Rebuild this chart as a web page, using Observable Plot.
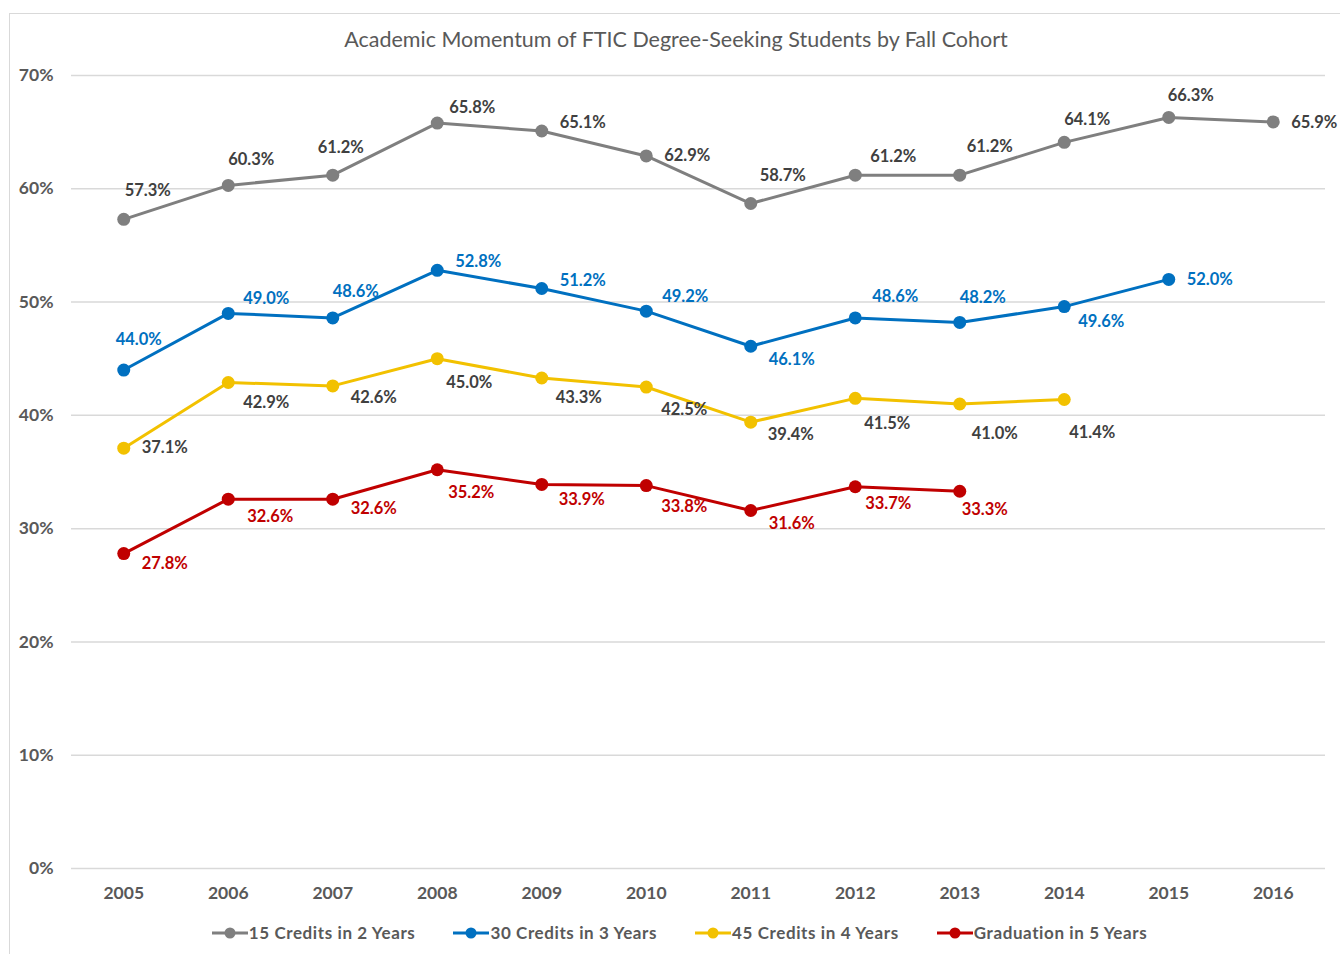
<!DOCTYPE html>
<html><head><meta charset="utf-8">
<script src="https://cdn.jsdelivr.net/npm/d3@7"></script>
<script src="https://cdn.jsdelivr.net/npm/@observablehq/plot@0.6"></script>
<style>
body{margin:0;background:#fff;font-family:Lato,"Open Sans",sans-serif;}
#wrap{position:relative;width:1340px;height:954px;overflow:hidden;background:#fff;}
#frame{position:absolute;left:9px;top:13px;width:1400px;height:1000px;border:1px solid #d9d9d9;box-sizing:border-box;}
#title{position:absolute;top:25px;left:0;width:1352px;text-align:center;font-size:21.5px;color:#595959;line-height:28px;}
#chart{position:absolute;left:0;top:0;}
#legend{position:absolute;top:921px;left:0;width:1359px;display:flex;justify-content:center;gap:38px;font-size:17px;letter-spacing:0.6px;font-weight:bold;color:#595959;line-height:24px;}
#legend .item{display:flex;align-items:center;}
#legend svg{display:block;margin-right:1px;}
</style></head>
<body>
<div id="wrap">
  <div id="frame"></div>
  <div id="chart"></div>
  <div id="title">Academic Momentum of FTIC Degree-Seeking Students by Fall Cohort</div>
  <div id="legend"></div>
</div>
<script>
// ---- data ----
const years = [2005, 2006, 2007, 2008, 2009, 2010, 2011, 2012, 2013, 2014, 2015, 2016];
const seriesNames = ["15 Credits in 2 Years", "30 Credits in 3 Years", "45 Credits in 4 Years", "Graduation in 5 Years"];
const credits15in2 = [57.3, 60.3, 61.2, 65.8, 65.1, 62.9, 58.7, 61.2, 61.2, 64.1, 66.3, 65.9];
const credits30in3 = [44.0, 49.0, 48.6, 52.8, 51.2, 49.2, 46.1, 48.6, 48.2, 49.6, 52.0];
const credits45in4 = [37.1, 42.9, 42.6, 45.0, 43.3, 42.5, 39.4, 41.5, 41.0, 41.4];
const grad5 = [27.8, 32.6, 32.6, 35.2, 33.9, 33.8, 31.6, 33.7, 33.3];
const yTicks = [0, 10, 20, 30, 40, 50, 60, 70];

// ---- styling ----
const lineColors = ["#7f7f7f", "#0070c0", "#f2c100", "#c00000"];
const labelColors = ["#404040", "#0070c0", "#404040", "#c00000"];
// label nudges (px) relative to each point
const labelNudges = [
  [[24,-29],[23,-26],[8,-27],[35,-15],[41,-8],[41,0],[32,-28],[38,-18],[30,-28],[23,-23],[22,-22],[41,1]],
  [[15,-30],[38,-15],[23,-26],[41,-9],[41,-8],[39,-14],[41,13],[40,-21],[23,-25],[37,15],[41,0]],
  [[41,0],[38,20],[41,12],[32,24],[37,20],[38,23],[40,13],[32,25],[35,30],[28,33]],
  [[41,10],[42,18],[41,10],[34,23],[40,15],[38,21],[41,13],[33,17],[25,18]]
];

const allValues = [credits15in2, credits30in3, credits45in4, grad5];
const rows = [];
allValues.forEach((vals, s) => vals.forEach((v, i) => rows.push({series: seriesNames[s], s, i, year: years[i], value: v})));

const labelMarks = rows.map(r => Plot.text([r], {
  x: "year", y: "value", text: d => d.value.toFixed(1) + "%",
  dx: labelNudges[r.s][r.i][0], dy: labelNudges[r.s][r.i][1],
  fill: labelColors[r.s], fontWeight: "bold", fontSize: 16.5, textAnchor: "middle", lineAnchor: "middle"
}));

const chart = Plot.plot({
  width: 1340, height: 954,
  marginLeft: 71, marginRight: 15, marginTop: 75, marginBottom: 86,
  style: {fontFamily: "Lato, 'Open Sans', sans-serif", fontSize: "17.5px", fontWeight: "bold", color: "#595959", background: "transparent"},
  x: {type: "linear", domain: [2004.5, 2016.5]},
  y: {domain: [0, 70]},
  color: {domain: seriesNames, range: lineColors},
  marks: [
    Plot.gridY(yTicks, {stroke: "#d9d9d9", strokeOpacity: 1, strokeWidth: 1.5}),
    Plot.axisY({ticks: yTicks, tickSize: 0, tickPadding: 18, tickFormat: d => d + "%", label: null}),
    Plot.axisX({ticks: years, tickSize: 0, tickPadding: 18, tickFormat: d => String(d), label: null}),
    Plot.line(rows, {x: "year", y: "value", z: "series", stroke: "series", strokeWidth: 3}),
    Plot.dot(rows, {x: "year", y: "value", fill: "series", r: 6.5, stroke: "none"}),
    ...labelMarks
  ]
});
document.getElementById("chart").appendChild(chart);

// legend
const legend = document.getElementById("legend");
seriesNames.forEach((name, s) => {
  const item = document.createElement("div");
  item.className = "item";
  item.innerHTML = `<svg width="36" height="14"><line x1="0" y1="7" x2="36" y2="7" stroke="${lineColors[s]}" stroke-width="3"/><circle cx="18" cy="7" r="5.5" fill="${lineColors[s]}"/></svg><span>${name}</span>`;
  legend.appendChild(item);
});
</script>
</body></html>
